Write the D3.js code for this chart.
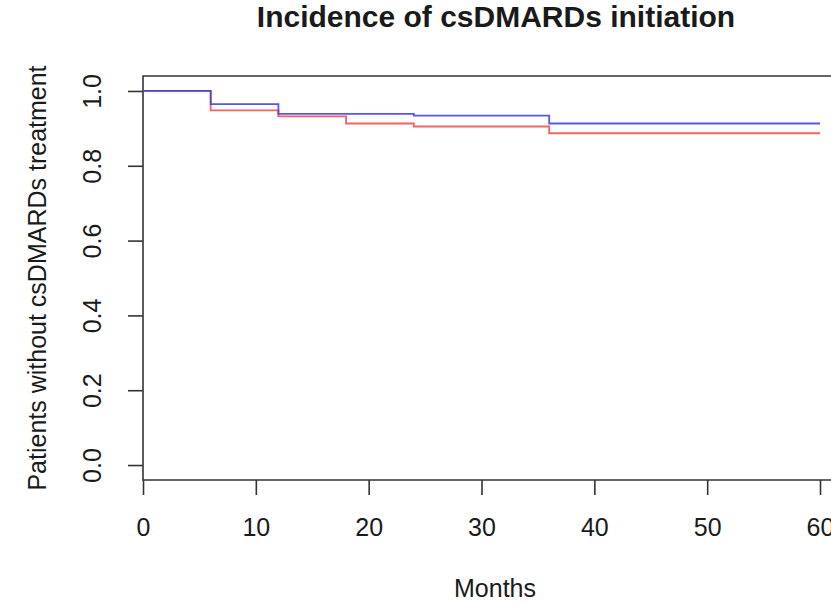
<!DOCTYPE html>
<html>
<head>
<meta charset="utf-8">
<script src="https://cdn.jsdelivr.net/npm/d3@7/dist/d3.min.js"></script>
<style>
  html, body { margin: 0; padding: 0; background: #fff; }
  svg { display: block; }
  text { font-family: "Liberation Sans", Arial, Helvetica, sans-serif; fill: #1a1a1a; }
</style>
</head>
<body>
<svg id="chart" width="831" height="604"></svg>
<script>
// Kaplan–Meier style step curves: proportion of patients still without csDMARDs
const months = [0, 6, 12, 18, 24, 36, 60];
const groupBlue = [1.0, 0.965, 0.939, 0.939, 0.934, 0.913, 0.913];
const groupRed  = [1.0, 0.948, 0.932, 0.913, 0.905, 0.887, 0.887];
const xTicks = [0, 10, 20, 30, 40, 50, 60];
const yTicks = [0.0, 0.2, 0.4, 0.6, 0.8, 1.0];

const titleText = "Incidence of csDMARDs initiation";
const xLabel = "Months";
const yLabel = "Patients without csDMARDs treatment";

const svg = d3.select("#chart");
const plot = { left: 143, top: 76, bottom: 480 };
const fontSize = "25px";

// x starts exactly at 0, right side padded 4% (R "S" style)
const x = d3.scaleLinear().domain([0, 60]).range([143, 820]);
const y = d3.scaleLinear().domain([-0.04, 1.04]).range([plot.bottom, plot.top]);
const xRight = x(62.4);

const axisColor = "#333";

// plot frame (top, left, bottom; right edge is off the page)
svg.append("path")
  .attr("d", `M${xRight},${plot.top}H${plot.left}V${plot.bottom}H${xRight}`)
  .attr("fill", "none")
  .attr("stroke", axisColor)
  .attr("stroke-width", 1.6);

// x axis
const xAxis = d3.axisBottom(x)
  .tickValues(xTicks)
  .tickFormat(d3.format("d"))
  .tickSize(15)
  .tickSizeOuter(0);
const gx = svg.append("g").attr("transform", `translate(0,${plot.bottom})`).call(xAxis);
gx.select(".domain").remove();
gx.selectAll(".tick line").attr("stroke", axisColor).attr("stroke-width", 1.6);
gx.selectAll(".tick text")
  .attr("y", 56).attr("dy", null)
  .attr("fill", "#1a1a1a")
  .style("font-size", fontSize)
  .attr("font-family", null);

// y axis, labels rotated like base R graphics
const yAxis = d3.axisLeft(y)
  .tickValues(yTicks)
  .tickFormat(d3.format(".1f"))
  .tickSize(15)
  .tickSizeOuter(0);
const gy = svg.append("g").attr("transform", `translate(${plot.left},0)`).call(yAxis);
gy.select(".domain").remove();
gy.selectAll(".tick line").attr("stroke", axisColor).attr("stroke-width", 1.6);
gy.selectAll(".tick text")
  .attr("x", null).attr("dy", null)
  .attr("text-anchor", "middle")
  .attr("transform", "translate(-42,0) rotate(-90)")
  .attr("fill", "#1a1a1a")
  .style("font-size", fontSize)
  .attr("font-family", null);

// step curves
const line = d3.line()
  .x(d => x(d[0]))
  .y(d => y(d[1]))
  .curve(d3.curveStepAfter);

const series = [
  { values: groupRed, color: "#f04848" },
  { values: groupBlue, color: "#3a3ae8" }
];
series.forEach(s => {
  svg.append("path")
    .datum(months.map((m, i) => [m, s.values[i]]))
    .attr("d", line)
    .attr("fill", "none")
    .attr("stroke", s.color)
    .attr("stroke-width", 1.8)
    .attr("stroke-opacity", 0.85);
});

// titles
svg.append("text")
  .attr("x", 496).attr("y", 27)
  .attr("text-anchor", "middle")
  .style("font-size", "30px")
  .style("font-weight", "bold")
  .text(titleText);

svg.append("text")
  .attr("x", 495).attr("y", 597)
  .attr("text-anchor", "middle")
  .style("font-size", fontSize)
  .text(xLabel);

svg.append("text")
  .attr("transform", `translate(46,278) rotate(-90)`)
  .attr("text-anchor", "middle")
  .style("font-size", fontSize)
  .text(yLabel);
</script>
</body>
</html>
